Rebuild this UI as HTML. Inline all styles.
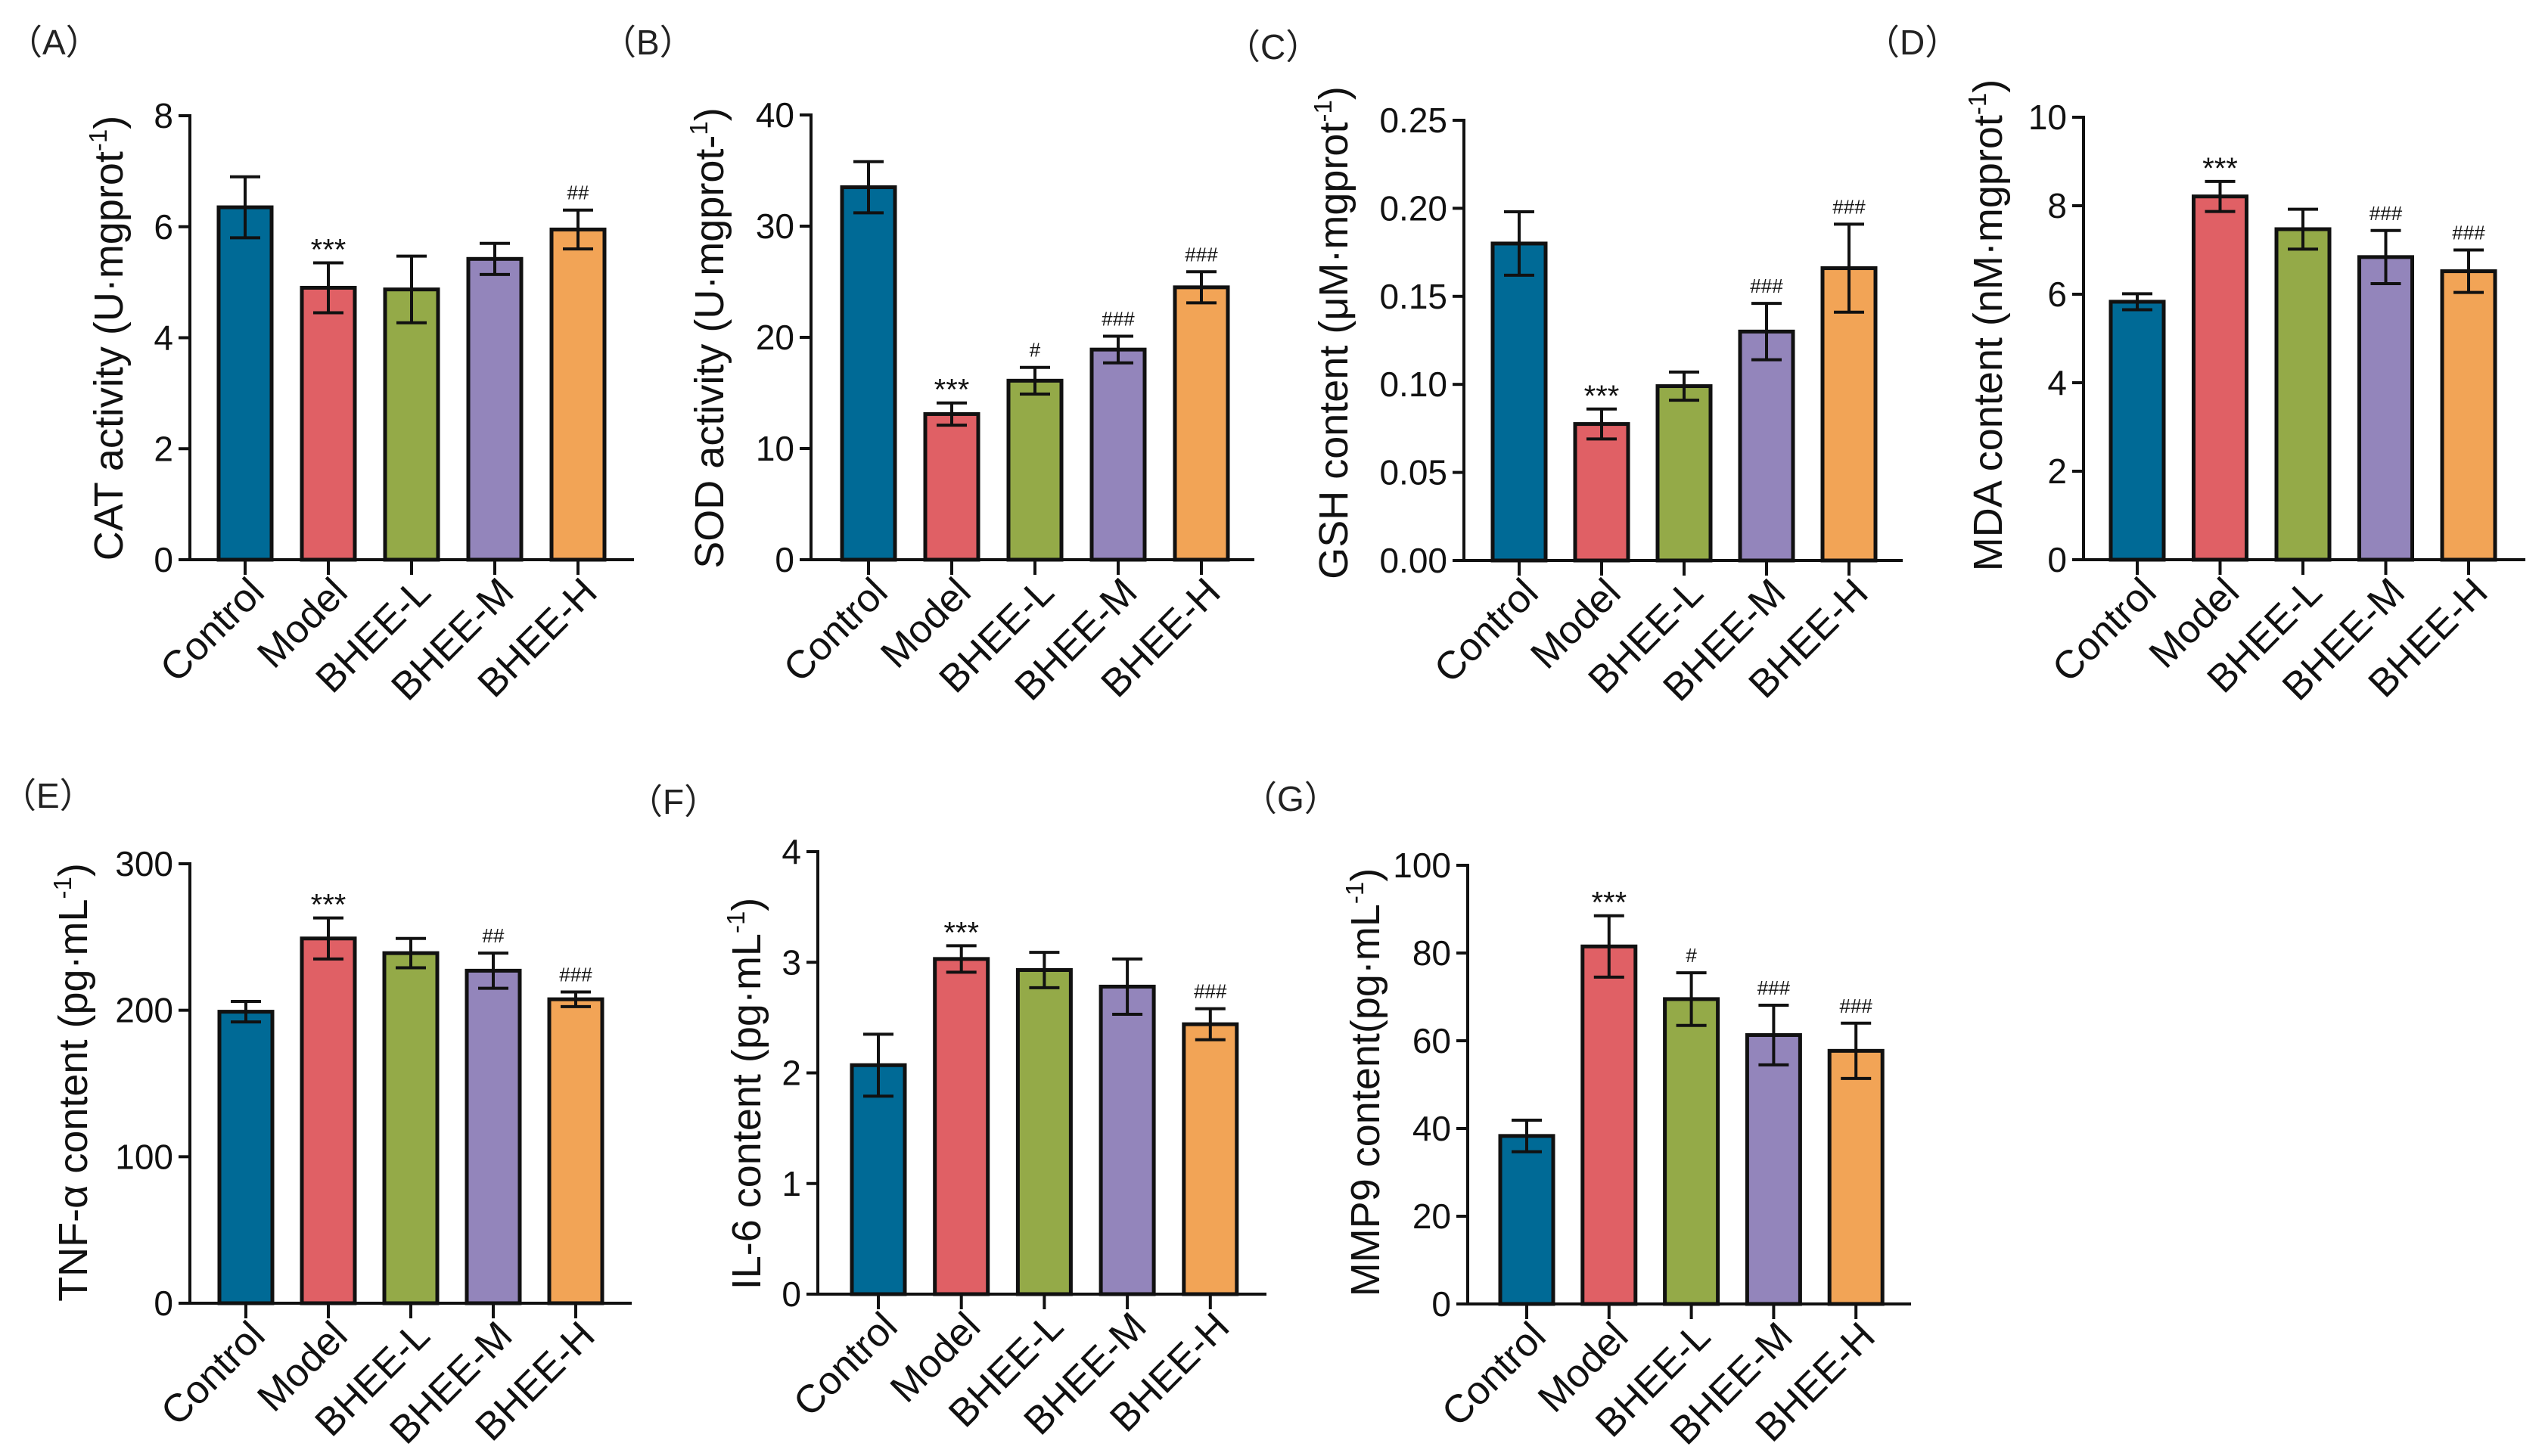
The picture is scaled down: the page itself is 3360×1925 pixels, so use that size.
<!DOCTYPE html>
<html><head><meta charset="utf-8">
<style>
html,body{margin:0;padding:0;background:#fff;}
svg{display:block;font-family:"Liberation Sans",Arial,sans-serif;}
</style></head>
<body>
<svg id="fig" width="3360" height="1925" viewBox="0 0 3360 1925" xmlns="http://www.w3.org/2000/svg">
<rect x="0" y="0" width="3360" height="1925" fill="#fff"/>
</svg>
<script>
// ---- data ----
const categories = ["Control","Model","BHEE-L","BHEE-M","BHEE-H"];
const colors = ["#006a96","#e06065","#94aa48","#9385bb","#f2a456"];

const catValues = [6.35,4.9,4.87,5.42,5.95];
const catErrors = [0.55,0.45,0.6,0.28,0.35];
const catMarks  = ["","***","","","##"];
const catTicks  = [0,2,4,6,8];
const catTickLabels = ["0","2","4","6","8"];

const sodValues = [33.5,13.1,16.1,18.9,24.5];
const sodErrors = [2.3,1.0,1.2,1.2,1.4];
const sodMarks  = ["","***","#","###","###"];
const sodTicks  = [0,10,20,30,40];
const sodTickLabels = ["0","10","20","30","40"];

const gshValues = [0.180,0.0775,0.099,0.130,0.166];
const gshErrors = [0.018,0.0085,0.008,0.016,0.025];
const gshMarks  = ["","***","","###","###"];
const gshTicks  = [0,0.05,0.10,0.15,0.20,0.25];
const gshTickLabels = ["0.00","0.05","0.10","0.15","0.20","0.25"];

const mdaValues = [5.83,8.21,7.47,6.84,6.52];
const mdaErrors = [0.18,0.34,0.45,0.6,0.48];
const mdaMarks  = ["","***","","###","###"];
const mdaTicks  = [0,2,4,6,8,10];
const mdaTickLabels = ["0","2","4","6","8","10"];

const tnfValues = [199,249,239,227,207.5];
const tnfErrors = [7,14,10,12,5];
const tnfMarks  = ["","***","","##","###"];
const tnfTicks  = [0,100,200,300];
const tnfTickLabels = ["0","100","200","300"];

const il6Values = [2.07,3.03,2.93,2.78,2.44];
const il6Errors = [0.28,0.12,0.16,0.25,0.14];
const il6Marks  = ["","***","","","###"];
const il6Ticks  = [0,1,2,3,4];
const il6TickLabels = ["0","1","2","3","4"];

const mmpValues = [38.3,81.5,69.5,61.3,57.7];
const mmpErrors = [3.6,7,6,6.8,6.3];
const mmpMarks  = ["","***","#","###","###"];
const mmpTicks  = [0,20,40,60,80,100];
const mmpTickLabels = ["0","20","40","60","80","100"];

// ---- layout (pixels) ----
const panels = [
 {id:"a",letter:"（A）",lx:10,ly:72,ax:251,x1:838,top:153,bot:740,ymax:8,vals:catValues,errs:catErrors,marks:catMarks,ticks:catTicks,tl:catTickLabels,title:["CAT activity (U·mgprot","-1",")"],tx:162,ty:447,c0:324,step:110},
 {id:"b",letter:"（B）",lx:795,ly:72,ax:1072,x1:1658,top:152,bot:740,ymax:40,vals:sodValues,errs:sodErrors,marks:sodMarks,ticks:sodTicks,tl:sodTickLabels,title:["SOD activity (U·mgprot-","1",")"],tx:956,ty:447,c0:1148,step:110},
 {id:"c",letter:"（C）",lx:1620,ly:78,ax:1935,x1:2515,top:159,bot:741,ymax:0.25,vals:gshValues,errs:gshErrors,marks:gshMarks,ticks:gshTicks,tl:gshTickLabels,title:["GSH content (μM·mgprot","-1",")"],tx:1781,ty:440,c0:2008,step:109},
 {id:"d",letter:"（D）",lx:2465,ly:72,ax:2754,x1:3338,top:155,bot:740,ymax:10,vals:mdaValues,errs:mdaErrors,marks:mdaMarks,ticks:mdaTicks,tl:mdaTickLabels,title:["MDA content (nM·mgprot","-1",")"],tx:2646,ty:430,c0:2825,step:109.5},
 {id:"e",letter:"（E）",lx:2,ly:1068,ax:251,x1:835,top:1142,bot:1723,ymax:300,vals:tnfValues,errs:tnfErrors,marks:tnfMarks,ticks:tnfTicks,tl:tnfTickLabels,title:["TNF-α content (pg·mL","-1",")"],tx:115,ty:1431,c0:325,step:109},
 {id:"f",letter:"（F）",lx:830,ly:1076,ax:1081,x1:1674,top:1126,bot:1711,ymax:4,vals:il6Values,errs:il6Errors,marks:il6Marks,ticks:il6Ticks,tl:il6TickLabels,title:["IL-6 content (pg·mL","-1",")"],tx:1005,ty:1446,c0:1161,step:109.7},
 {id:"g",letter:"（G）",lx:1642,ly:1072,ax:1940,x1:2526,top:1144,bot:1724,ymax:100,vals:mmpValues,errs:mmpErrors,marks:mmpMarks,ticks:mmpTicks,tl:mmpTickLabels,title:["MMP9 content(pg·mL","-1",")"],tx:1823,ty:1431,c0:2018,step:108.8}
];

const NS="http://www.w3.org/2000/svg";
const svg=document.getElementById("fig");
function mk(tag,attrs,parent){const e=document.createElementNS(NS,tag);for(const k in attrs)e.setAttribute(k,attrs[k]);(parent||svg).appendChild(e);return e;}

panels.forEach(p=>{
  const g=mk("g",{});
  
  
  const y=v=>p.bot-(v/p.ymax)*(p.bot-p.top);
  const x=i=>p.c0+i*p.step;
  const bw=70;
  const L=mk("text",{x:p.lx,y:p.ly,"font-size":46,fill:"#222","font-family":"\"Liberation Sans\",\"Noto Sans CJK SC\",sans-serif"},g);L.textContent=p.letter;
  
  
  p.vals.forEach((v,i)=>{
    const r=mk("rect",{x:x(i)-bw/2,y:y(v),width:bw,height:p.bot-y(v),fill:colors[i],stroke:"#111","stroke-width":5},g);
    
    
    const e=p.errs[i];
    const eg=mk("g",{stroke:"#111","stroke-width":4},g);
    
    
    mk("line",{x1:x(i),x2:x(i),y1:y(v+e),y2:y(v-e)},eg);
    mk("line",{x1:x(i)-20,x2:x(i)+20,y1:y(v+e),y2:y(v+e)},eg);
    mk("line",{x1:x(i)-20,x2:x(i)+20,y1:y(v-e),y2:y(v-e)},eg);
    if(p.marks[i]){
      const star=p.marks[i].startsWith("*");
      const t=mk("text",{x:x(i),y:y(v+e)-(star?4:14),"text-anchor":"middle","font-size":star?40:26,fill:"#111"},g);
      t.textContent=p.marks[i];
      
      
    }
    mk("line",{x1:x(i),x2:x(i),y1:p.bot,y2:p.bot+20,stroke:"#111","stroke-width":4},g);
    const cx=x(i)+28, cy=p.bot+46;
    const lt=mk("text",{x:cx,y:cy,"text-anchor":"end","font-size":52,fill:"#111",transform:`rotate(-45 ${cx} ${cy})`},g);
    lt.textContent=categories[i];
    
    
  });
  const ya=mk("line",{x1:p.ax,x2:p.ax,y1:p.top-2,y2:p.bot,stroke:"#111","stroke-width":4},g);
  
  
  const xa=mk("line",{x1:p.ax-15,x2:p.x1,y1:p.bot,y2:p.bot,stroke:"#111","stroke-width":4},g);
  
  
  p.ticks.forEach((tv,k)=>{
    mk("line",{x1:p.ax-15,x2:p.ax,y1:y(tv),y2:y(tv),stroke:"#111","stroke-width":4},g);
    const t=mk("text",{x:p.ax-22,y:y(tv)+16,"text-anchor":"end","font-size":46,fill:"#111"},g);
    t.textContent=p.tl[k];
    
    
  });
  const tt=mk("text",{x:p.tx,y:p.ty,"text-anchor":"middle","font-size":54,fill:"#111",transform:`rotate(-90 ${p.tx} ${p.ty})`},g);
  
  
  const s1=mk("tspan",{},tt);s1.textContent=p.title[0];
  const s2=mk("tspan",{"font-size":33,dy:-21},tt);s2.textContent=p.title[1];
  const s3=mk("tspan",{dy:21},tt);s3.textContent=p.title[2];
});
</script>
</body></html>
